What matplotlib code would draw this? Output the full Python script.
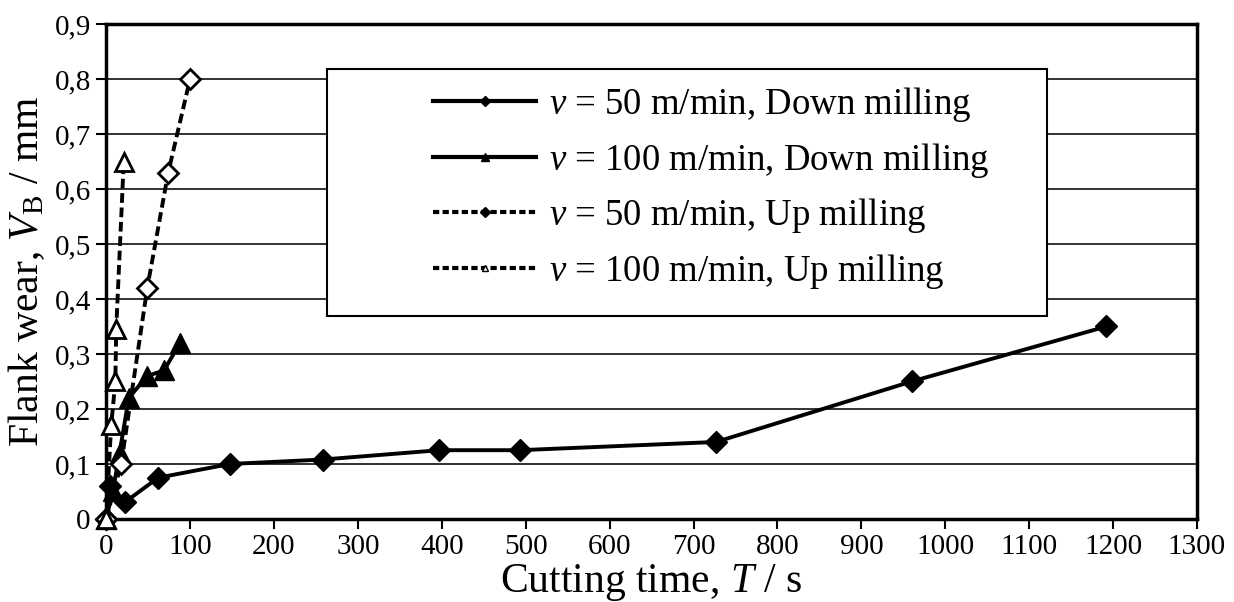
import matplotlib
matplotlib.use('Agg')
import matplotlib.pyplot as plt
from matplotlib.lines import Line2D
from matplotlib.patches import Rectangle
from matplotlib.ticker import FuncFormatter, MultipleLocator

plt.rcParams['font.family'] = ['Liberation Serif', 'DejaVu Serif']
plt.rcParams['mathtext.fontset'] = 'custom'
plt.rcParams['mathtext.rm'] = 'Liberation Serif'
plt.rcParams['mathtext.it'] = 'Liberation Serif:italic'

# v = 50 m/min, down milling
t_50_down = [0, 5, 22, 62, 148, 258, 397, 493, 727, 960, 1192]
vb_50_down = [0, 0.06, 0.03, 0.075, 0.1, 0.108, 0.125, 0.125, 0.14, 0.25, 0.35]
# v = 100 m/min, down milling
t_100_down = [0, 8, 16, 27, 49, 69, 88]
vb_100_down = [0, 0.05, 0.12, 0.22, 0.26, 0.27, 0.32]
# v = 50 m/min, up milling
t_50_up = [0, 18, 49, 74, 100]
vb_50_up = [0, 0.10, 0.42, 0.63, 0.80]
# v = 100 m/min, up milling
t_100_up = [0, 6, 11, 12, 21]
vb_100_up = [0, 0.17, 0.25, 0.345, 0.65]

labels = ['$v$ = 50 m/min, Down milling', '$v$ = 100 m/min, Down milling',
          '$v$ = 50 m/min, Up milling', '$v$ = 100 m/min, Up milling']

fig = plt.figure(figsize=(12.34, 6.02), dpi=100)
ax = fig.add_axes([0.086, 0.138, 0.884, 0.822])

lw = 2.8
ax.plot(t_50_down, vb_50_down, '-', color='black', lw=lw, marker='D', ms=11,
        mfc='black', mec='black', clip_on=False, zorder=3)
ax.plot(t_100_down, vb_100_down, '-', color='black', lw=lw, marker='^', ms=14,
        mfc='black', mec='black', clip_on=False, zorder=3)
ax.plot(t_50_up, vb_50_up, '--', color='black', lw=lw, dashes=(2.5, 1.2), marker='D', ms=10,
        mfc='white', mec='black', mew=2, clip_on=False, zorder=4)
ax.plot(t_100_up, vb_100_up, '--', color='black', lw=lw, dashes=(2.5, 1.2), marker='^', ms=13,
        mfc='white', mec='black', mew=2, clip_on=False, zorder=4)

ax.set_xlim(0, 1300)
ax.set_ylim(0, 0.9)
ax.xaxis.set_major_locator(MultipleLocator(100))
ax.yaxis.set_major_locator(MultipleLocator(0.1))


def comma_fmt(v, pos):
    if abs(v) < 1e-9:
        return '0'
    return f'{v:.1f}'.replace('.', ',')


ax.yaxis.set_major_formatter(FuncFormatter(comma_fmt))
ax.tick_params(axis='both', direction='out', length=7, width=1.5, labelsize=21, pad=4)
ax.yaxis.grid(True, color='#222222', lw=1.3)
ax.set_axisbelow(True)
for s in ax.spines.values():
    s.set_linewidth(2.5)

ax.set_xlabel('Cutting time, $T$ / s', fontsize=30, labelpad=1)
ax.set_ylabel(r'Flank wear, $V_\mathrm{B}$ / mm', fontsize=30, labelpad=5)

# legend box
box = Rectangle((0.2026, 0.41), 0.66, 0.50, transform=ax.transAxes,
                facecolor='white', edgecolor='black', lw=1.5, zorder=5)
ax.add_patch(box)

handles = [
    Line2D([], [], ls='-', color='black', lw=3, marker='D', ms=5),
    Line2D([], [], ls='-', color='black', lw=3, marker='^', ms=6),
    Line2D([], [], ls='--', color='black', lw=3, dashes=(1.5, 0.8), marker='D', ms=5),
    Line2D([], [], ls='--', color='black', lw=3, dashes=(1.5, 0.8), marker='^', ms=5, mfc='white'),
]
leg = ax.legend(handles, labels, loc='upper left', bbox_to_anchor=(0.30, 0.877),
                frameon=False, fontsize=26.5, handlelength=2.8, handletextpad=0.35,
                borderpad=0, borderaxespad=0, labelspacing=0.45)
leg.set_zorder(6)

fig.savefig('out.png', dpi=100)
